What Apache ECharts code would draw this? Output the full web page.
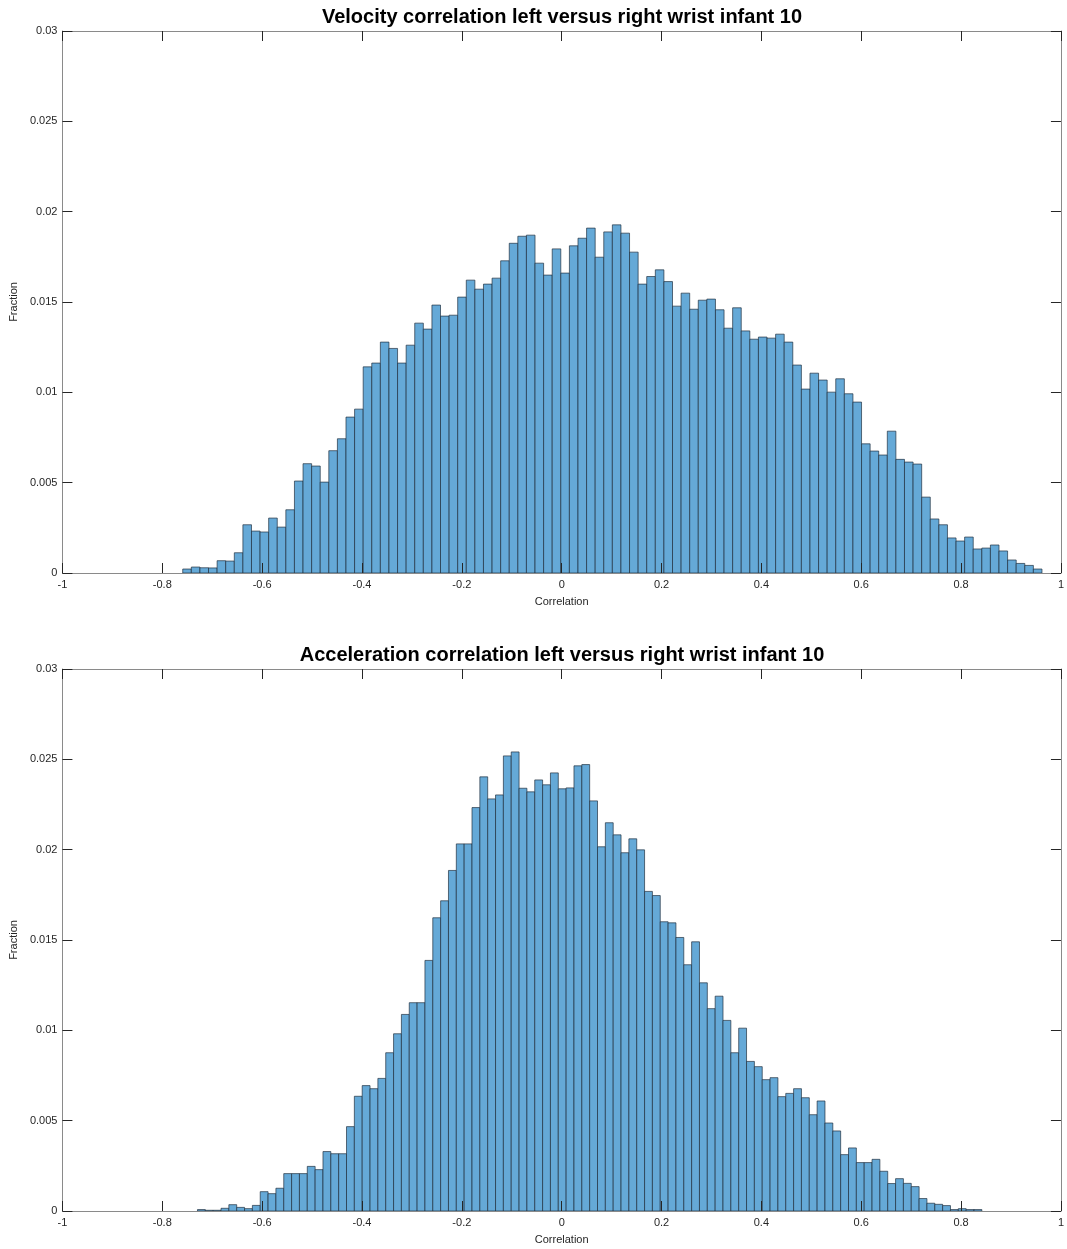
<!DOCTYPE html>
<html>
<head>
<meta charset="utf-8">
<title>Left versus right wrist correlation, infant 10</title>
<script src="https://cdn.jsdelivr.net/npm/echarts@6/dist/echarts.min.js"></script>
<style>
  html, body { margin: 0; padding: 0; background: #ffffff; }
  #chart { width: 1067px; height: 1249px; }
</style>
</head>
<body>
<div id="chart"></div>
<script>
// Histogram of correlation values, 100 equal bins spanning [min, max] of each data set.
const velocityTitle = 'Velocity correlation left versus right wrist infant 10';
const accelerationTitle = 'Acceleration correlation left versus right wrist infant 10';

const velocityBinRange = [-0.759, 0.962];
const velocityFraction = [
  0.00022, 0.00033, 0.00029, 0.00028, 0.00068, 0.00066, 0.00112, 0.00267, 0.00232, 0.00227,
  0.00304, 0.00254, 0.00350, 0.00509, 0.00605, 0.00592, 0.00503, 0.00677, 0.00743, 0.00863,
  0.00907, 0.01141, 0.01162, 0.01278, 0.01243, 0.01162, 0.01261, 0.01383, 0.01350, 0.01483,
  0.01422, 0.01427, 0.01527, 0.01621, 0.01571, 0.01599, 0.01632, 0.01728, 0.01825, 0.01864,
  0.01870, 0.01715, 0.01649, 0.01794, 0.01660, 0.01811, 0.01853, 0.01909, 0.01748, 0.01888,
  0.01927, 0.01881, 0.01776, 0.01599, 0.01641, 0.01678, 0.01613, 0.01477, 0.01549, 0.01460,
  0.01510, 0.01516, 0.01457, 0.01355, 0.01468, 0.01340, 0.01294, 0.01306, 0.01300, 0.01322,
  0.01278, 0.01151, 0.01018, 0.01106, 0.01068, 0.01001, 0.01075, 0.00992, 0.00946, 0.00715,
  0.00675, 0.00653, 0.00785, 0.00629, 0.00614, 0.00603, 0.00420, 0.00299, 0.00267, 0.00194,
  0.00177, 0.00199, 0.00133, 0.00138, 0.00155, 0.00122, 0.00072, 0.00053, 0.00042, 0.00022
];

const accelerationBinRange = [-0.7295, 0.8416];
const accelerationFraction = [
  0.00008, 0.00004, 0.00004, 0.00015, 0.00035, 0.00020, 0.00013, 0.00031, 0.00107, 0.00096,
  0.00126, 0.00207, 0.00207, 0.00207, 0.00247, 0.00229, 0.00329, 0.00317, 0.00317, 0.00467,
  0.00635, 0.00694, 0.00677, 0.00734, 0.00876, 0.00981, 0.01088, 0.01153, 0.01153, 0.01387,
  0.01623, 0.01717, 0.01885, 0.02032, 0.02032, 0.02233, 0.02403, 0.02281, 0.02303, 0.02519,
  0.02541, 0.02340, 0.02320, 0.02386, 0.02359, 0.02425, 0.02337, 0.02342, 0.02464, 0.02471,
  0.02270, 0.02016, 0.02149, 0.02082, 0.01983, 0.02060, 0.01999, 0.01769, 0.01746, 0.01601,
  0.01595, 0.01514, 0.01363, 0.01490, 0.01263, 0.01120, 0.01189, 0.01055, 0.00876, 0.01012,
  0.00828, 0.00799, 0.00727, 0.00738, 0.00633, 0.00651, 0.00677, 0.00627, 0.00533, 0.00609,
  0.00487, 0.00443, 0.00312, 0.00349, 0.00268, 0.00268, 0.00286, 0.00220, 0.00152, 0.00179,
  0.00153, 0.00135, 0.00069, 0.00043, 0.00037, 0.00030, 0.00008, 0.00013, 0.00008, 0.00008
];

const xTickLabels = ['-1', '-0.8', '-0.6', '-0.4', '-0.2', '0', '0.2', '0.4', '0.6', '0.8', '1'];
const yTickLabels = ['0', '0.005', '0.01', '0.015', '0.02', '0.025', '0.03'];
const xAxisName = 'Correlation';
const yAxisName = 'Fraction';

// Axis limits and tick spacing
const X_MIN = -1, X_MAX = 1, X_STEP = 0.2;
const Y_MIN = 0, Y_MAX = 0.03, Y_STEP = 0.005;

const FONT = '"Liberation Sans", Arial, Helvetica, sans-serif';
const INK = '#262626';
const BOX = '#8a8a8a';
const FACE = '#65a9d7';
const EDGE = 'rgba(30,45,60,0.85)';

// Turn a bin range and per-bin fractions into [left edge, right edge, fraction] rows
function binRows(range, values) {
  const n = values.length;
  const w = (range[1] - range[0]) / n;
  return values.map((v, i) => [range[0] + i * w, range[0] + (i + 1) * w, v]);
}

function renderBin(params, api) {
  const lo = api.value(0), hi = api.value(1), v = api.value(2);
  const p0 = api.coord([lo, v]);
  const p1 = api.coord([hi, 0]);
  return {
    type: 'rect',
    shape: { x: p0[0], y: p0[1], width: p1[0] - p0[0], height: p1[1] - p0[1] },
    style: { fill: FACE, stroke: EDGE, lineWidth: 0.8 }
  };
}

function xAxisPair(gridIndex) {
  const common = {
    type: 'value', gridIndex, min: X_MIN, max: X_MAX, interval: X_STEP, z: 5,
    splitLine: { show: false },
    axisLine: { show: true, onZero: false, lineStyle: { color: BOX, width: 1 } },
    axisTick: { show: true, inside: true, length: 10, lineStyle: { color: INK, width: 1 } }
  };
  return [
    Object.assign({}, common, {
      position: 'bottom',
      name: xAxisName, nameLocation: 'middle', nameGap: 23,
      nameTextStyle: { fontFamily: FONT, fontSize: 11, color: INK },
      axisLabel: {
        show: true, margin: 6, fontFamily: FONT, fontSize: 11, color: INK,
        formatter: v => xTickLabels[Math.round((v - X_MIN) / X_STEP)]
      }
    }),
    Object.assign({}, common, { position: 'top', axisLabel: { show: false } })
  ];
}

function yAxisPair(gridIndex) {
  const common = {
    type: 'value', gridIndex, min: Y_MIN, max: Y_MAX, interval: Y_STEP, z: 5,
    splitLine: { show: false },
    axisLine: { show: true, onZero: false, lineStyle: { color: BOX, width: 1 } },
    axisTick: { show: true, inside: true, length: 10, lineStyle: { color: INK, width: 1 } }
  };
  return [
    Object.assign({}, common, {
      position: 'left',
      name: yAxisName, nameLocation: 'middle', nameGap: 33,
      nameTextStyle: { fontFamily: FONT, fontSize: 11, color: INK },
      axisLabel: {
        show: true, margin: 5, fontFamily: FONT, fontSize: 11, color: INK,
        formatter: v => yTickLabels[Math.round((v - Y_MIN) / Y_STEP)]
      }
    }),
    Object.assign({}, common, { position: 'right', axisLabel: { show: false } })
  ];
}

const chart = echarts.init(document.getElementById('chart'), null, { renderer: 'canvas' });

chart.setOption({
  backgroundColor: '#ffffff',
  animation: false,
  title: [
    {
      text: velocityTitle, left: 562, top: 7, padding: 0, textAlign: 'center',
      textStyle: { fontFamily: FONT, fontSize: 20, fontWeight: 'bold', color: '#000000' }
    },
    {
      text: accelerationTitle, left: 562, top: 645, padding: 0, textAlign: 'center',
      textStyle: { fontFamily: FONT, fontSize: 20, fontWeight: 'bold', color: '#000000' }
    }
  ],
  grid: [
    { left: 60, top: 31, width: 1004, height: 542 },
    { left: 60, top: 669, width: 1004, height: 542 }
  ],
  xAxis: [...xAxisPair(0), ...xAxisPair(1)],
  yAxis: [...yAxisPair(0), ...yAxisPair(1)],
  series: [
    {
      name: 'Velocity', type: 'custom', xAxisIndex: 0, yAxisIndex: 0,
      renderItem: renderBin, encode: { x: [0, 1], y: 2 },
      data: binRows(velocityBinRange, velocityFraction), z: 2
    },
    {
      name: 'Acceleration', type: 'custom', xAxisIndex: 2, yAxisIndex: 2,
      renderItem: renderBin, encode: { x: [0, 1], y: 2 },
      data: binRows(accelerationBinRange, accelerationFraction), z: 2
    }
  ]
});
</script>
</body>
</html>
